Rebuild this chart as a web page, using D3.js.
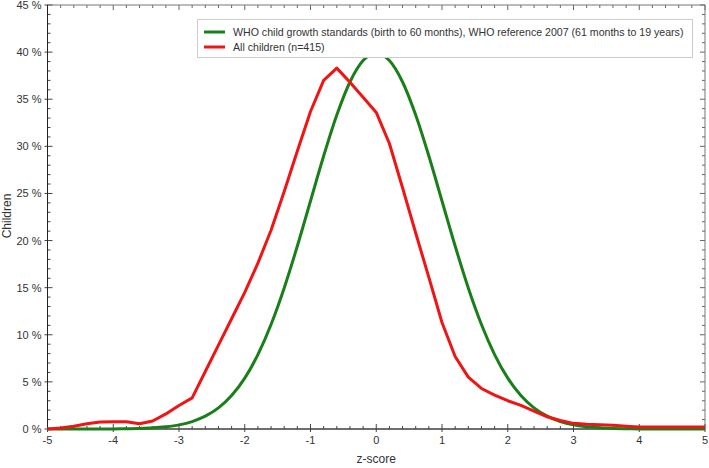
<!DOCTYPE html>
<html>
<head>
<meta charset="utf-8">
<script src="https://cdn.jsdelivr.net/npm/d3@7"></script>
<style>
  body { margin: 0; background: #fff; }
  text { font-family: "Liberation Sans", Arial, sans-serif; }
</style>
</head>
<body>
<div id="chart"></div>
<script>
// z-score grid (step 0.2)
const zScores = [-5, -4.8, -4.6, -4.4, -4.2, -4, -3.8, -3.6, -3.4, -3.2, -3, -2.8, -2.6, -2.4, -2.2, -2, -1.8, -1.6, -1.4, -1.2, -1,
  -0.8, -0.6, -0.4, -0.2, 0, 0.2, 0.4, 0.6, 0.8, 1, 1.2, 1.4, 1.6, 1.8, 2, 2.2, 2.4, 2.6, 2.8, 3, 3.2, 3.4, 3.6, 3.8, 4, 4.2, 4.4, 4.6, 4.8, 5];

// WHO reference (% of children)
const whoValues = [0, 0, 0, 0, 0, 0.01, 0.03, 0.06, 0.12, 0.24, 0.44, 0.79, 1.36, 2.24, 3.55, 5.4, 7.9, 11.09, 14.97, 19.42, 24.2,
  28.97, 33.32, 36.83, 39.1, 39.89, 39.1, 36.83, 33.32, 28.97, 24.2, 19.42, 14.97, 11.09, 7.9, 5.4, 3.55, 2.24, 1.36, 0.79, 0.44,
  0.24, 0.12, 0.06, 0.03, 0.01, 0, 0, 0, 0, 0];

// All children (n=415), % of children
const childValues = [0, 0.1, 0.3, 0.55, 0.75, 0.78, 0.77, 0.55, 0.85, 1.6, 2.5, 3.3, 6.1, 8.9, 11.7, 14.5, 17.6, 21.1, 25.2, 29.5, 33.7,
  37.0, 38.3, 36.8, 35.2, 33.6, 30.3, 25.6, 20.8, 16.1, 11.3, 7.7, 5.5, 4.3, 3.6, 3.0, 2.5, 1.9, 1.3, 0.9, 0.6,
  0.5, 0.45, 0.4, 0.3, 0.22, 0.2, 0.2, 0.2, 0.2, 0.2];

const xTicks = [-5, -4, -3, -2, -1, 0, 1, 2, 3, 4, 5];
const yTicks = [0, 5, 10, 15, 20, 25, 30, 35, 40, 45];

const legendLabels = [
  "WHO child growth standards (birth to 60 months), WHO reference 2007 (61 months to 19 years)",
  "All children (n=415)"
];
const seriesColors = ["#1a7f1a", "#f01414"];

const width = 709, height = 468;
const margin = { top: 5, right: 4, bottom: 39, left: 47.5 };

const svg = d3.select('#chart').append('svg')
  .attr('width', width)
  .attr('height', height);

const x = d3.scaleLinear().domain([-5, 5]).range([margin.left, width - margin.right]);
const y = d3.scaleLinear().domain([0, 45]).range([height - margin.bottom, margin.top]);

const x0 = x(-5), x1 = x(5), y0 = y(0), y1 = y(45);

// minor ticks
const xMinor = d3.range(-5, 5.001, 0.2);
const yMinor = d3.range(0, 45.001, 1);

const tickG = svg.append('g').attr('stroke', '#444').attr('stroke-width', 1);

// bottom & top
xMinor.forEach(v => {
  const major = Math.abs(v - Math.round(v)) < 1e-6;
  const len = major ? 5 : 3;
  tickG.append('line').attr('x1', x(v)).attr('x2', x(v)).attr('y1', y0 + (major ? 3 : 0)).attr('y2', y0 - len);
  tickG.append('line').attr('x1', x(v)).attr('x2', x(v)).attr('y1', y1).attr('y2', y1 + len).attr('stroke', '#666');
});
// left & right
yMinor.forEach(v => {
  const major = v % 5 === 0;
  const len = major ? 5 : 3;
  tickG.append('line').attr('y1', y(v)).attr('y2', y(v)).attr('x1', x0 - (major ? 3 : 0)).attr('x2', x0 + len);
  tickG.append('line').attr('y1', y(v)).attr('y2', y(v)).attr('x1', x1).attr('x2', x1 - len).attr('stroke', '#666');
});

// frame
svg.append('rect')
  .attr('x', x0).attr('y', y1)
  .attr('width', x1 - x0).attr('height', y0 - y1)
  .attr('fill', 'none').attr('stroke', '#777').attr('stroke-width', 1);
svg.append('line').attr('x1', x0).attr('x2', x0).attr('y1', y1).attr('y2', y0).attr('stroke', '#222');
svg.append('line').attr('x1', x0).attr('x2', x1).attr('y1', y0).attr('y2', y0).attr('stroke', '#222');

// tick labels
svg.append('g').selectAll('text').data(xTicks).join('text')
  .attr('x', d => x(d))
  .attr('y', y0 + 15)
  .attr('text-anchor', 'middle')
  .attr('font-size', 11)
  .attr('fill', '#333')
  .text(d => d);

svg.append('g').selectAll('text').data(yTicks).join('text')
  .attr('x', x0 - 6)
  .attr('y', d => y(d) + 4)
  .attr('text-anchor', 'end')
  .attr('font-size', 11)
  .attr('fill', '#333')
  .text(d => d + ' %');

// axis titles
svg.append('text')
  .attr('x', (x0 + x1) / 2)
  .attr('y', 463)
  .attr('text-anchor', 'middle')
  .attr('font-size', 12)
  .attr('fill', '#333')
  .text('z-score');

svg.append('text')
  .attr('transform', 'translate(11,' + 216 + ') rotate(-90)')
  .attr('text-anchor', 'middle')
  .attr('font-size', 12)
  .attr('fill', '#333')
  .text('Children');

// curves
const line = d3.line()
  .x((d, i) => x(zScores[i]))
  .y(d => y(d));

svg.append('path')
  .datum(whoValues)
  .attr('d', line.curve(d3.curveMonotoneX))
  .attr('fill', 'none')
  .attr('stroke', seriesColors[0])
  .attr('stroke-width', 3);

svg.append('path')
  .datum(childValues)
  .attr('d', line.curve(d3.curveLinear))
  .attr('fill', 'none')
  .attr('stroke', seriesColors[1])
  .attr('stroke-width', 3)
  .attr('stroke-linejoin', 'round');

// legend
const legend = svg.append('g');
legend.append('rect')
  .attr('x', 197.5).attr('y', 19.5)
  .attr('width', 495).attr('height', 38)
  .attr('fill', '#fff').attr('stroke', '#ccc');

legendLabels.forEach((label, i) => {
  const ly = 32 + i * 15;
  legend.append('line')
    .attr('x1', 204).attr('x2', 225)
    .attr('y1', ly).attr('y2', ly)
    .attr('stroke', seriesColors[i]).attr('stroke-width', 3);
  legend.append('text')
    .attr('x', 233).attr('y', ly + 3.5)
    .attr('font-size', 10.6)
    .attr('fill', '#333')
    .text(label);
});
</script>
</body>
</html>
